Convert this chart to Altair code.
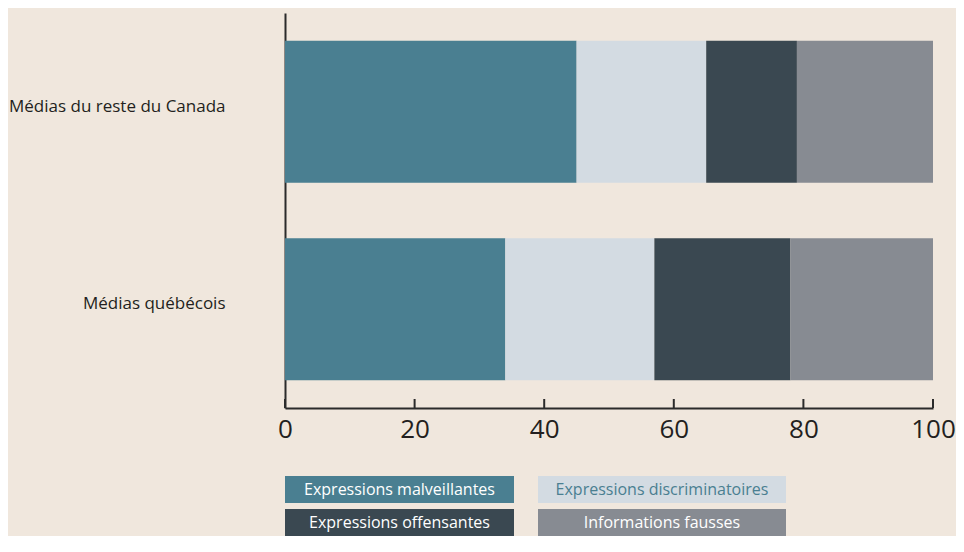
import altair as alt
import pandas as pd

# ---- data ----
medias = ["Médias du reste du Canada", "Médias québécois"]
categories = ["Expressions malveillantes", "Expressions discriminatoires",
              "Expressions offensantes", "Informations fausses"]
reste_canada = [45, 20, 14, 21]
quebecois = [34, 23, 21, 22]
tick_values = [0, 20, 40, 60, 80, 100]

colors = ["#4a7f91", "#d3dbe2", "#3a4851", "#878b92"]
text_colors = ["#ffffff", "#4a7f91", "#ffffff", "#ffffff"]
legend_col = [0, 1, 0, 1]
legend_row = [0, 0, 1, 1]

FONT = "Open Sans"
BG = "#f0e7dd"
INK = "#231f20"

rows = []
for m, vals in zip(medias, [reste_canada, quebecois]):
    for i, (c, v) in enumerate(zip(categories, vals)):
        rows.append({"media": m, "cat": c, "val": v, "order": i})
df = pd.DataFrame(rows)

color_scale = alt.Scale(domain=categories, range=colors)

bars = alt.Chart(df).mark_bar().encode(
    y=alt.Y("media:N", sort=medias, title=None,
            scale=alt.Scale(paddingInner=0.28, paddingOuter=0.14),
            axis=alt.Axis(labelFont=FONT, labelFontSize=17, labelColor=INK,
                          labelBaseline="alphabetic", labelPadding=60,
                          ticks=False, domainColor="#2b2b2b", domainWidth=2,
                          labelLimit=400)),
    x=alt.X("val:Q", stack="zero", title=None,
            scale=alt.Scale(domain=[0, 100], nice=False),
            axis=alt.Axis(values=tick_values, ticks=False, grid=False,
                          labelFont=FONT, labelFontSize=26, labelColor=INK,
                          labelPadding=8, domainColor="#2b2b2b", domainWidth=2,
                          labelFlush=False)),
    color=alt.Color("cat:N", scale=color_scale, legend=None),
    order=alt.Order("order:Q"),
)

ticks_df = pd.DataFrame({"t": tick_values})
ticks = alt.Chart(ticks_df).mark_rule(color="#2b2b2b", strokeWidth=2).encode(
    x=alt.X("t:Q"),
    y=alt.value(386),
    y2=alt.value(395),
)

main = alt.layer(bars, ticks).properties(width=648, height=395)

# ---- legend ----
leg_df = pd.DataFrame({"cat": categories, "col": legend_col, "row": legend_row,
                       "tcolor": text_colors})


def legend_column(col, w):
    d = leg_df[leg_df["col"] == col]
    base = alt.Chart(d).encode(
        y=alt.Y("row:O", axis=None, title=None,
                scale=alt.Scale(paddingInner=6 / 33, paddingOuter=0)),
    )
    rect = base.mark_bar().encode(
        color=alt.Color("cat:N", scale=color_scale, legend=None),
    )
    txt = base.mark_text(font=FONT, fontSize=16, baseline="middle",
                         align="center").encode(
        text="cat:N",
        color=alt.Color("tcolor:N", scale=None),
    )
    return alt.layer(rect, txt).properties(width=w, height=60)


legend = alt.hconcat(legend_column(0, 229), legend_column(1, 248), spacing=24)

chart = alt.vconcat(main, legend, spacing=34).properties(
    padding={"top": 5, "left": 0, "right": 0, "bottom": 0}
).configure(background=BG).configure_view(stroke=None)

chart.save("out.html", embed_options={"renderer": "svg", "actions": False})
